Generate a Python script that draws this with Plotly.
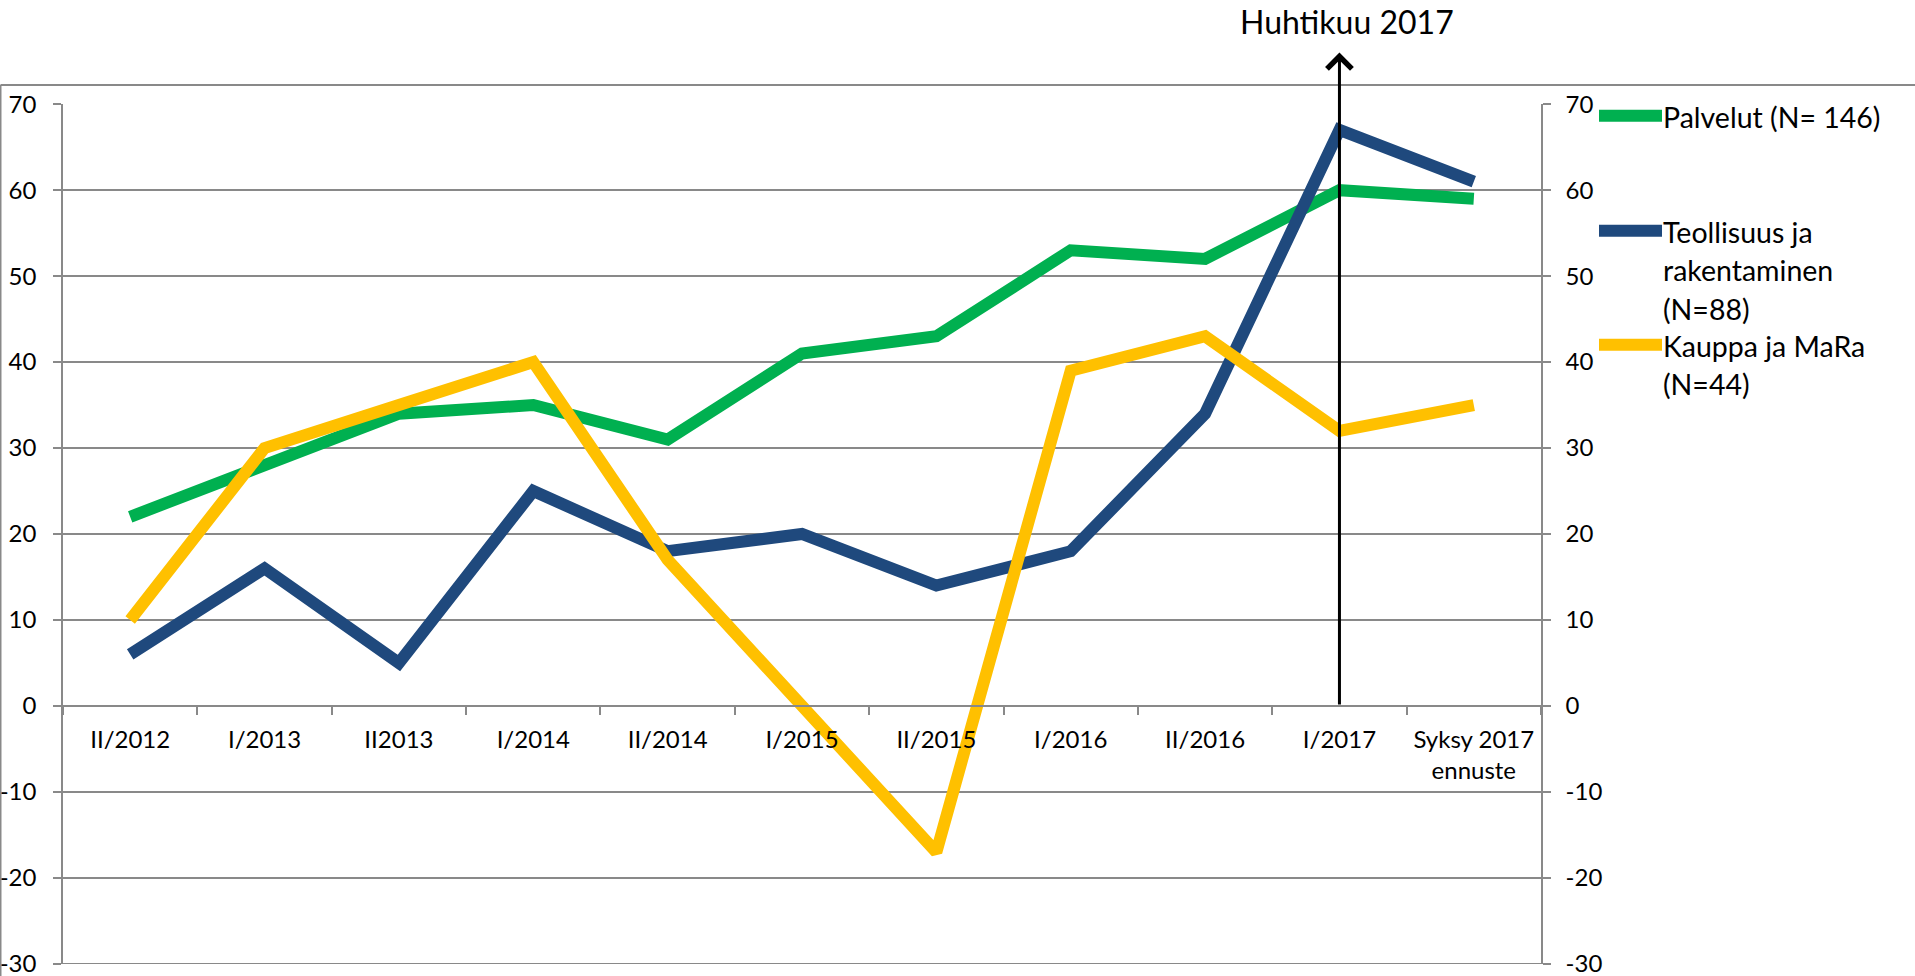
import plotly.graph_objects as go

categories = ["II/2012", "I/2013", "II2013", "I/2014", "II/2014", "I/2015",
              "II/2015", "I/2016", "II/2016", "I/2017", "Syksy 2017<br>ennuste"]
palvelut = [22, 28, 34, 35, 31, 41, 43, 53, 52, 60, 59]
teollisuus = [6, 16, 5, 25, 18, 20, 14, 18, 34, 67, 61]
kauppa = [10, 30, 35, 40, 17, 0, -17, 39, 43, 32, 35]

series_names = ["Palvelut (N= 146)", "Teollisuus ja rakentaminen (N=88)", "Kauppa ja MaRa (N=44)"]
legend_lines = [["Palvelut (N= 146)"], ["Teollisuus ja", "rakentaminen", "(N=88)"], ["Kauppa ja MaRa", "(N=44)"]]
series_values = [palvelut, teollisuus, kauppa]
colors = ["#00B050", "#1F497D", "#FFC000"]
y_ticks = list(range(-30, 71, 10))
y_ticktext = [str(v) for v in y_ticks]  # plain hyphen minus, as in the original
marker_label = "Huhtikuu 2017"
marker_category = "I/2017"

FONT = "Lato, 'Open Sans', sans-serif"
GRID = "#898989"

W, H = 1915, 976
YR = [-30.02, 70.02]
SCALE = 8.6                       # pixels per unit on the value axis
TOP70 = 104.3                     # pixel row of the 70 gridline
ML, MR = 63, 374
MT = TOP70 - (YR[1] - 70) * SCALE
PH = (YR[1] - YR[0]) * SCALE
MB = H - MT - PH
PW = W - ML - MR


def px_x(px):
    return (px - ML) / PW


def px_y(py):
    return (H - MB - py) / PH


fig = go.Figure()
for name, vals, col in zip(series_names, series_values, colors):
    fig.add_trace(go.Scatter(x=categories, y=vals, name=name, mode="lines",
                             line=dict(color=col, width=12), showlegend=False))

# invisible trace to carry the right-hand axis
fig.add_trace(go.Scatter(x=categories, y=palvelut, yaxis="y2", mode="lines",
                         line=dict(width=0), opacity=0, showlegend=False, hoverinfo="skip"))

shapes = [
    # outer chart frame (top and left edges)
    dict(type="line", xref="paper", yref="paper", x0=px_x(0.5), x1=px_x(W + 5),
         y0=px_y(85), y1=px_y(85), line=dict(color=GRID, width=2)),
    dict(type="line", xref="paper", yref="paper", x0=px_x(0.5), x1=px_x(0.5),
         y0=px_y(85), y1=px_y(H + 5), line=dict(color=GRID, width=2)),
    # bottom gridline at the axis minimum
    dict(type="line", xref="paper", yref="y", x0=px_x(ML - 8), x1=px_x(W - MR + 8),
         y0=y_ticks[0], y1=y_ticks[0], layer="below", line=dict(color=GRID, width=1.5)),
]

annotations = []
# vertical arrow marking the survey time
annotations.append(dict(x=marker_category, y=76, xref="x", yref="y",
                        ax=marker_category, ay=0, axref="x", ayref="y",
                        text="", showarrow=True, arrowhead=4, arrowsize=1.6,
                        arrowwidth=3, arrowcolor="black", standoff=0, startstandoff=0))
annotations.append(dict(x=marker_category, y=px_y(22), xref="x", yref="paper",
                        xshift=8, text=marker_label, showarrow=False,
                        font=dict(family=FONT, size=32, color="black"),
                        xanchor="center", yanchor="middle"))

# manual legend
legend_line_y = [116, 231, 345]
line_gap = 38.5
for lines, col, ly in zip(legend_lines, colors, legend_line_y):
    shapes.append(dict(type="line", xref="paper", yref="paper",
                       x0=px_x(1599), x1=px_x(1662), y0=px_y(ly), y1=px_y(ly),
                       line=dict(color=col, width=12)))
    for k, txt in enumerate(lines):
        annotations.append(dict(x=px_x(1661), y=px_y(ly + k * line_gap + 1), xref="paper", yref="paper",
                                text=txt, showarrow=False, xanchor="left", yanchor="middle",
                                font=dict(family=FONT, size=28.5, color="black")))

fig.update_layout(
    width=W, height=H,
    margin=dict(l=ML, r=MR, t=MT, b=MB, autoexpand=False),
    paper_bgcolor="white", plot_bgcolor="white",
    font=dict(family=FONT, size=24, color="black"),
    showlegend=False,
    xaxis=dict(type="category", categoryorder="array", categoryarray=categories,
               range=[-0.5, len(categories) - 0.5], automargin=False,
               anchor="free", position=(0 - YR[0]) / (YR[1] - YR[0]),
               showline=True, linecolor=GRID, linewidth=2,
               ticks="outside", tickson="boundaries", ticklen=8, tickcolor=GRID, tickwidth=1.5,
               showgrid=False, zeroline=False, ticklabelstandoff=12,
               tickfont=dict(family=FONT, size=24, color="black")),
    yaxis=dict(range=YR, tickvals=y_ticks, ticktext=y_ticktext,
               showline=True, linecolor=GRID, linewidth=1.5,
               ticks="outside", ticklen=8, tickcolor=GRID, tickwidth=1.5, automargin=False,
               showgrid=True, gridcolor=GRID, gridwidth=1.5, zeroline=False,
               ticklabelstandoff=12, ticklabeloverflow="allow",
               tickfont=dict(family=FONT, size=24, color="black")),
    yaxis2=dict(range=YR, tickvals=y_ticks, ticktext=y_ticktext,
                overlaying="y", side="right", automargin=False,
                showline=True, linecolor=GRID, linewidth=1.5,
                ticks="outside", ticklen=8, tickcolor=GRID, tickwidth=1.5,
                showgrid=False, zeroline=False, ticklabelstandoff=10, ticklabeloverflow="allow",
                tickfont=dict(family=FONT, size=24, color="black")),
    shapes=shapes,
    annotations=annotations,
)

fig.write_html("out.html", config={"displayModeBar": False},
               post_script="document.body.style.margin='0';document.body.style.overflow='hidden';")
